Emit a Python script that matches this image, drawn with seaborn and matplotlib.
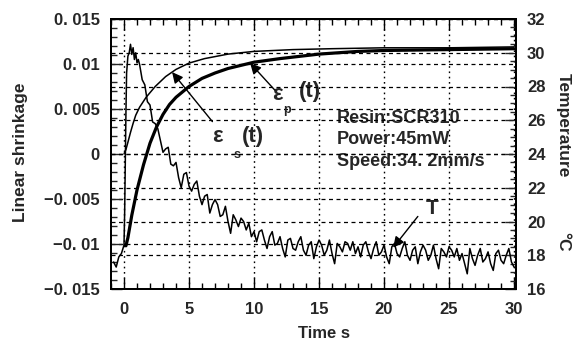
import numpy as np
import pandas as pd
import matplotlib
matplotlib.use("Agg")
import matplotlib.pyplot as plt
from matplotlib.ticker import FixedLocator, FixedFormatter, MultipleLocator
import seaborn as sns

# ---------------- data ----------------
# epsilon_s(t) : thin curve (left axis)
eps_s_time = [0.0, 0.15, 0.3, 0.5, 0.7, 0.9, 1.2, 1.7, 2.4, 3.2, 4.0, 5.0, 6.2,
              8.0, 10.0, 13.0, 16.0, 20.0, 25.0, 30.0]
eps_s_val = [0.0, 0.0005, 0.0013, 0.0024, 0.0034, 0.0043, 0.0052, 0.0063, 0.0075,
             0.0086, 0.0094, 0.0101, 0.0106, 0.0111, 0.0114, 0.0116, 0.0117,
             0.0118, 0.0118, 0.0119]

# epsilon_p(t) : thick curve (left axis)
eps_p_time = [0.1, 0.15, 0.3, 0.6, 1.0, 1.5, 2.0, 2.5, 3.0, 3.5, 4.0, 5.0, 6.0,
              7.0, 8.0, 10.0, 12.0, 15.0, 18.0, 20.0, 25.0, 30.0]
eps_p_val = [-0.0101, -0.0102, -0.0093, -0.0068, -0.0040, -0.0012, 0.0012, 0.0030,
             0.0044, 0.0055, 0.0063, 0.0075, 0.0084, 0.0090, 0.0095, 0.0102,
             0.0106, 0.0111, 0.0114, 0.0115, 0.0116, 0.0117]

# temperature T (right axis), noisy measurement
temp_time_early = [-0.8, -0.6, -0.4, -0.2, 0.0, 0.05, 0.1, 0.15, 0.2, 0.3, 0.4,
                   0.5, 0.6, 0.7, 0.8, 0.9, 1.0, 1.1]
temp_val_early = [17.6, 17.3, 17.9, 18.1, 18.6, 20.5, 23.5, 26.5, 28.8, 29.8, 30.0,
                  30.5, 29.9, 30.3, 29.6, 30.0, 29.4, 29.6]
temp_val_late = [  # sampled every 0.2 s from 1.2 s to 30.0 s
    29.3, 28.4, 28.1, 27.1, 26.9, 25.9, 25.8, 25.5, 24.8, 24.1,
    24.3, 24.4, 23.4, 23.3, 23.5, 22.6, 22.0, 22.8, 22.9, 22.1,
    21.8, 22.2, 22.4, 21.5, 21.0, 21.5, 21.6, 20.5, 21.0, 21.3,
    21.0, 20.3, 20.4, 20.9, 20.0, 19.3, 20.4, 20.1, 19.7, 20.2,
    20.0, 19.5, 19.9, 19.1, 19.4, 18.8, 19.4, 19.5, 18.9, 18.4,
    19.1, 19.4, 18.6, 18.7, 19.1, 18.4, 17.9, 18.9, 19.0, 18.4,
    18.3, 18.8, 19.1, 18.3, 18.0, 18.6, 18.8, 17.8, 18.5, 18.9,
    18.6, 18.0, 18.3, 18.9, 18.1, 17.5, 18.7, 18.5, 18.2, 18.8,
    18.7, 18.3, 18.8, 18.1, 18.5, 17.9, 18.6, 18.8, 18.2, 17.8,
    18.4, 18.8, 18.0, 18.2, 18.6, 17.9, 17.5, 18.5, 18.7, 18.1,
    17.9, 18.4, 18.8, 18.0, 17.7, 18.3, 18.5, 17.5, 18.2, 18.6,
    18.3, 17.7, 18.0, 18.6, 17.8, 17.2, 18.4, 18.2, 17.9, 18.5,
    18.3, 17.9, 18.4, 17.7, 18.1, 17.5, 16.9, 18.4, 17.8, 17.4,
    18.0, 18.4, 17.6, 17.8, 18.2, 17.5, 17.1, 18.1, 18.3, 17.7,
    17.5, 18.0, 18.4, 17.6, 17.3]
temp_time_late = list(np.round(1.2 + 0.2 * np.arange(len(temp_val_late)), 2))

x_ticks = [0, 5, 10, 15, 20, 25, 30]
x_ticklabels = ["0", "5", "10", "15", "20", "25", "30"]
left_ticks = [-0.015, -0.01, -0.005, 0.0, 0.005, 0.01, 0.015]
left_ticklabels = ["\u22120. 015", "\u22120. 01", "\u22120. 005", "0", "0. 005", "0. 01", "0. 015"]
right_ticks = [16, 18, 20, 22, 24, 26, 28, 30, 32]
right_ticklabels = ["16", "18", "20", "22", "24", "26", "28", "30", "32"]

# ---------------- style ----------------
sns.set_style("ticks")
plt.rcParams["font.family"] = ["Liberation Sans", "DejaVu Sans"]
plt.rcParams["font.weight"] = "bold"

W, H = 582, 345
fig = plt.figure(figsize=(W / 100, H / 100), dpi=100)
L, R, T, B = 111, 516, 19, 289
ax = fig.add_axes([L / W, 1 - B / H, (R - L) / W, (B - T) / H])
ax2 = ax.twinx()

dash = (0, (3.2, 2.8))
dot = (0, (1.2, 2.6))

# lines
df_s = pd.DataFrame({"t": eps_s_time, "v": eps_s_val})
df_p = pd.DataFrame({"t": eps_p_time, "v": eps_p_val})
df_T = pd.DataFrame({"t": temp_time_early + temp_time_late,
                     "v": temp_val_early + temp_val_late})
sns.lineplot(data=df_s, x="t", y="v", ax=ax, color="black", lw=1.1,
             estimator=None, sort=False, zorder=5)
sns.lineplot(data=df_p, x="t", y="v", ax=ax, color="black", lw=2.3,
             estimator=None, sort=False, zorder=5)
sns.lineplot(data=df_T, x="t", y="v", ax=ax2, color="black", lw=1.1,
             estimator=None, sort=False, zorder=5)

# axes limits
ax.set_xlim(-1.0, 30.15)
ax.set_ylim(-0.015, 0.015)
ax2.set_ylim(16, 32)

# ticks
ax.xaxis.set_major_locator(FixedLocator(x_ticks))
ax.xaxis.set_major_formatter(FixedFormatter(x_ticklabels))
ax.xaxis.set_minor_locator(MultipleLocator(1))
ax.yaxis.set_major_locator(FixedLocator(left_ticks))
ax.yaxis.set_major_formatter(FixedFormatter(left_ticklabels))
ax.yaxis.set_minor_locator(MultipleLocator(0.001))
ax2.yaxis.set_major_locator(FixedLocator(right_ticks))
ax2.yaxis.set_major_formatter(FixedFormatter(right_ticklabels))
ax2.yaxis.set_minor_locator(MultipleLocator(0.5))

ax.tick_params(axis="x", which="both", direction="in", top=True, bottom=True,
               labelsize=12, pad=9, color="black", width=1.0)
ax.tick_params(axis="y", which="both", direction="in", left=True, right=False,
               labelsize=12, pad=8, width=1.0)
ax.tick_params(which="major", length=8)
ax.tick_params(which="minor", length=4)
ax2.tick_params(axis="y", which="both", direction="in", right=True, labelsize=12,
                pad=8, width=1.0)
ax2.tick_params(which="major", length=8)
ax2.tick_params(which="minor", length=4)
for lab in ax.get_xticklabels() + ax.get_yticklabels() + ax2.get_yticklabels():
    lab.set_fontweight("bold")

# grids
ax.grid(axis="y", which="major", ls=dash, color="black", lw=0.9)
ax.grid(axis="x", which="major", ls=dot, color="black", lw=1.0)
ax2.grid(axis="y", which="major", ls=dash, color="black", lw=0.9)
ax2.grid(axis="x", visible=False)
ax.set_axisbelow(True)

for a in (ax, ax2):
    for s in a.spines.values():
        s.set_linewidth(1.4)
        s.set_color("black")
        s.set_visible(True)

ax.set_xlabel("")
ax.set_ylabel("")
ax2.set_ylabel("")

# axis titles
fig.text(324 / W, 1 - 333 / H, "Time s", ha="center", va="center",
         fontsize=12, fontweight="bold")
fig.text(21 / W, 1 - 152 / H, "Linear shrinkage", ha="center", va="center",
         rotation=90, fontsize=12.5, fontweight="bold")
fig.text(563 / W, 1 - 125 / H, "Temperature", ha="center", va="center",
         rotation=-90, fontsize=12.5, fontweight="bold")
fig.text(563 / W, 1 - 242 / H, "°C", ha="center", va="center",
         rotation=-90, fontsize=12.5, fontweight="bold")

# annotations
arrow = dict(arrowstyle="-|>", color="black", lw=1.0, mutation_scale=16,
             shrinkA=0, shrinkB=0)
ax.annotate("", xy=(3.7, 0.0091), xytext=(6.8, 0.0036), arrowprops=arrow, zorder=6)
ax.text(7.15, 0.0019, "\u03b5", fontsize=16, ha="center", va="center")
ax.text(8.7, -0.0001, "s", fontsize=9, ha="center", va="center")
ax.text(9.9, 0.0019, "(t)", fontsize=16, ha="center", va="center")

ax.annotate("", xy=(9.7, 0.0101), xytext=(11.6, 0.0071), arrowprops=arrow, zorder=6)
ax.text(11.8, 0.0066, "\u03b5", fontsize=16, ha="center", va="center")
ax.text(12.5, 0.0049, "p", fontsize=9, ha="center", va="center")
ax.text(14.3, 0.0070, "(t)", fontsize=16, ha="center", va="center")

ax2.annotate("", xy=(20.7, 18.45), xytext=(22.6, 20.3), arrowprops=arrow, zorder=6)
ax2.text(23.7, 20.8, "T", fontsize=15, ha="center", va="center")

for i, line in enumerate(["Resin:SCR310", "Power:45mW", "Speed:34. 2mm/s"]):
    ax.text(16.4, [0.00389, 0.00156, -0.00078][i], line, fontsize=13,
            ha="left", va="center", fontweight="bold")

fig.savefig("out.png", dpi=100)
